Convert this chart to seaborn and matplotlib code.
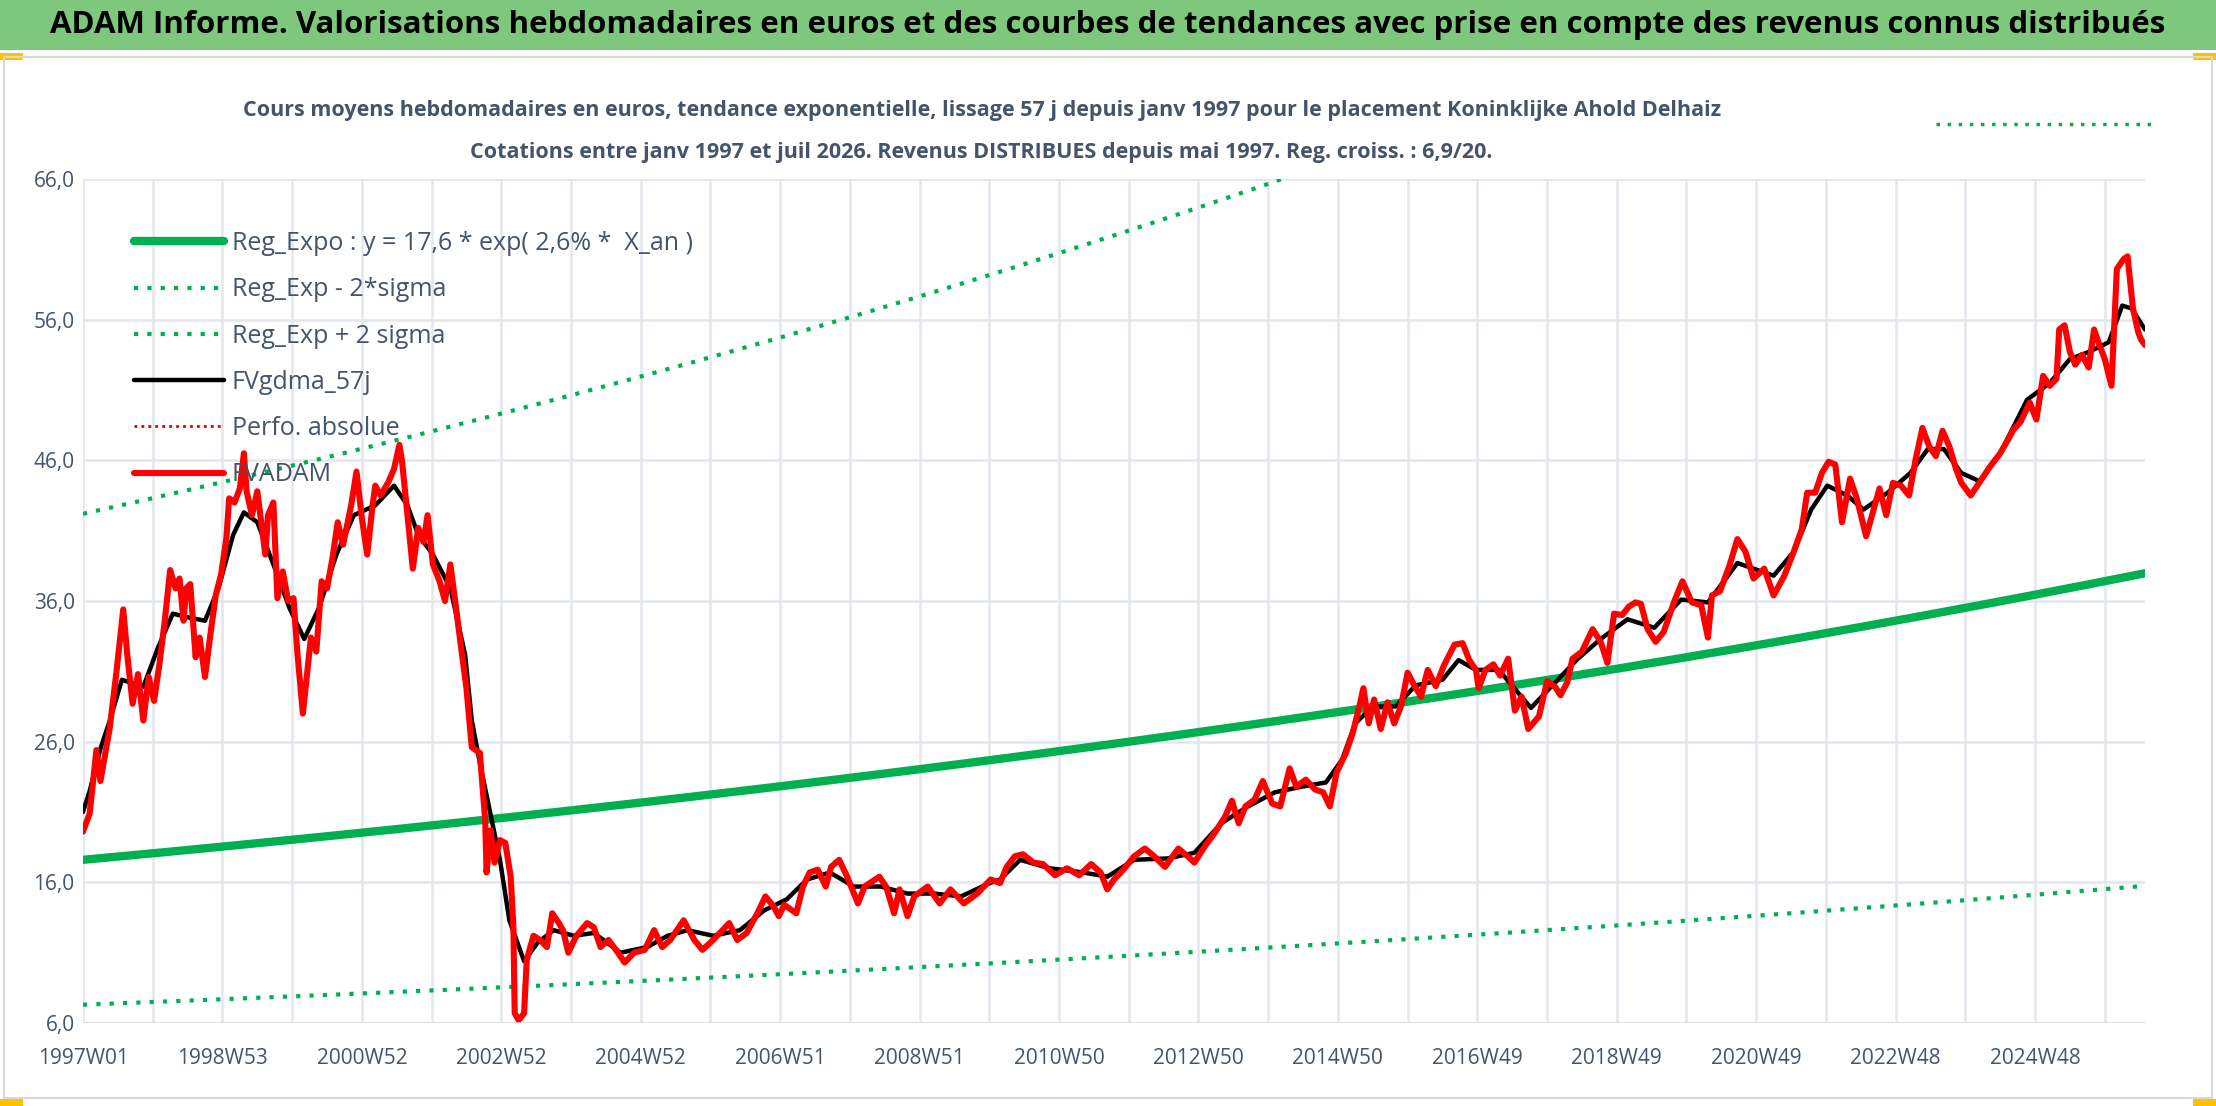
import numpy as np
import pandas as pd
import matplotlib
matplotlib.use("Agg")
import matplotlib.pyplot as plt
import seaborn as sns
from matplotlib.patches import Rectangle
from matplotlib.lines import Line2D

# ---------------- data ----------------
tick_labels = ["1997W01", "1998W53", "2000W52", "2002W52", "2004W52", "2006W51", "2008W51",
               "2010W50", "2012W50", "2014W50", "2016W49", "2018W49", "2020W49", "2022W48", "2024W48"]
n_weeks = 1538
reg_a = 17.6
reg_low = 7.3
reg_high = 42.2
reg_rate = 0.026

red_w = [0, 5, 10, 13, 20, 25, 30, 33, 37, 41, 45, 49, 53, 57, 61, 65, 69, 72, 75, 77, 80, 84, 87, 91, 95, 99, 103,
         107, 109, 113, 117, 120, 122, 126, 130, 136, 138, 142, 145, 149, 153, 157, 160, 164, 166, 170, 174, 178,
         182, 186, 190, 194, 200, 204, 208, 212, 216, 218, 222, 228, 232, 236, 238, 242, 246, 250, 254, 257, 261,
         266, 270, 274, 278, 282, 286, 290, 296, 300, 301, 304, 307, 311, 315, 319, 321, 322, 325, 329, 331, 336,
         341, 346, 350, 355, 358, 362, 368, 376, 381, 386, 392, 399, 404, 411, 419, 426, 432, 438, 448, 456, 462,
         470, 482, 488, 495, 503, 509, 515, 519, 523, 532, 537, 542, 548, 554, 558, 564, 570, 578, 583, 594, 599,
         605, 609, 615, 620, 630, 639, 647, 657, 667, 677, 684, 689, 695, 701, 709, 716, 725, 734, 743, 752, 759,
         764, 769, 776, 784, 792, 799, 807, 817, 824, 829, 837, 844, 852, 857, 862, 867, 874, 880, 887, 893, 900,
         905, 912, 919, 925, 930, 935, 942, 947, 952, 955, 959, 963, 968, 973, 978, 983, 988, 993, 998, 1003, 1009,
         1015, 1023, 1029, 1034, 1039, 1041, 1046, 1052, 1057, 1063, 1068, 1073, 1078, 1086, 1092, 1098, 1102,
         1107, 1111, 1118, 1126, 1132, 1137, 1142, 1148, 1153, 1158, 1162, 1167, 1173, 1179, 1187, 1193, 1200,
         1207, 1212, 1215, 1221, 1228, 1234, 1240, 1246, 1254, 1261, 1269, 1276, 1282, 1286, 1292, 1297, 1302,
         1307, 1312, 1318, 1323, 1330, 1335, 1340, 1345, 1350, 1356, 1362, 1367, 1372, 1377, 1382, 1387, 1392,
         1397, 1401, 1408, 1415, 1422, 1430, 1436, 1440, 1445, 1452, 1457, 1462, 1467, 1472, 1474, 1478, 1482,
         1486, 1491, 1496, 1500, 1504, 1508, 1513, 1517, 1522, 1525, 1529, 1533, 1535, 1538]
red_v = [19.6, 20.9, 25.4, 23.2, 27.0, 31.0, 35.4, 32.2, 28.7, 30.8, 27.5, 30.6, 28.9, 31.5, 34.6, 38.2, 36.9, 37.6,
         34.6, 36.9, 37.2, 32.0, 33.4, 30.6, 33.6, 36.4, 37.9, 40.5, 43.3, 43.0, 44.0, 46.5, 43.8, 42.1, 43.8, 39.3,
         42.1, 43.0, 36.2, 38.1, 36.0, 36.2, 32.2, 28.0, 29.8, 33.4, 32.4, 37.4, 36.9, 39.0, 41.6, 40.0, 42.8, 45.2,
         41.9, 39.3, 42.8, 44.2, 43.5, 44.5, 45.4, 47.1, 45.9, 42.1, 38.3, 41.2, 40.2, 42.1, 38.6, 37.4, 36.0, 38.6,
         35.7, 32.7, 29.8, 25.6, 25.2, 20.4, 16.7, 19.7, 17.4, 19.0, 18.8, 16.4, 12.9, 6.7, 6.2, 6.7, 10.5, 12.2,
         11.9, 11.4, 13.8, 13.1, 12.6, 11.0, 12.2, 13.1, 12.8, 11.4, 11.9, 11.0, 10.3, 11.0, 11.2, 12.6, 11.4, 11.9,
         13.3, 11.9, 11.2, 11.9, 13.1, 11.9, 12.4, 13.8, 15.0, 14.3, 13.6, 14.4, 13.8, 15.7, 16.7, 16.9, 15.7, 17.1,
         17.6, 16.4, 14.5, 15.7, 16.4, 15.7, 13.8, 15.5, 13.6, 15.0, 15.7, 14.5, 15.5, 14.5, 15.2, 16.2, 15.95, 17.1,
         17.85, 18.0, 17.4, 17.3, 16.5, 17.0, 16.5, 17.3, 16.7, 15.5, 16.2, 16.9, 17.85, 18.4, 17.85, 17.1, 18.4,
         17.85, 17.4, 18.6, 19.5, 20.7, 21.8, 20.2, 21.4, 21.9, 23.2, 21.6, 21.4, 24.1, 22.8, 23.3, 22.6, 22.4, 21.4,
         23.8, 25.2, 26.6, 28.5, 29.8, 27.3, 29.0, 26.9, 28.8, 27.3, 28.5, 30.9, 30.0, 29.2, 31.1, 29.95, 31.4, 32.9,
         33.0, 31.8, 31.1, 29.8, 31.1, 31.5, 30.7, 31.9, 28.2, 29.2, 26.9, 27.8, 30.3, 29.9, 29.3, 30.2, 31.9, 32.4,
         34.0, 33.1, 31.6, 35.1, 35.0, 35.6, 35.9, 35.8, 34.0, 33.1, 33.8, 36.0, 37.4, 35.9, 35.7, 33.4, 36.4, 36.7,
         38.5, 40.4, 39.5, 37.6, 38.3, 36.4, 37.8, 39.5, 41.1, 43.7, 43.7, 45.1, 45.9, 45.7, 41.6, 44.7, 43.3, 40.6,
         42.3, 44.0, 42.1, 44.4, 44.2, 43.5, 46.1, 48.3, 47.0, 46.3, 48.1, 47.0, 45.4, 44.4, 43.5, 44.5, 45.5, 46.5,
         47.5, 48.2, 48.7, 50.1, 48.9, 52.0, 51.3, 51.8, 55.3, 55.6, 53.7, 52.8, 53.5, 52.6, 55.3, 54.2, 53.2, 51.3,
         59.6, 60.3, 60.5, 56.8, 55.1, 54.6, 54.2]

blk_w = [0, 5, 13, 20, 29, 45, 56, 67, 80, 91, 101, 112, 120, 130, 144, 154, 165, 176, 189, 202, 218, 232, 242,
         250, 261, 274, 285, 290, 296, 311, 318, 329, 339, 351, 366, 381, 401, 421, 436, 451, 470, 490, 508, 525,
         540, 557, 575, 595, 615, 635, 655, 675, 684, 699, 721, 746, 764, 784, 809, 829, 849, 869, 889, 909, 927,
         939, 949, 962, 979, 994, 1014, 1026, 1039, 1056, 1080, 1095, 1115, 1132, 1152, 1172, 1192, 1212, 1234,
         1261, 1276, 1289, 1301, 1316, 1328, 1346, 1363, 1376, 1388, 1401, 1415, 1430, 1450, 1467, 1482, 1496,
         1511, 1521, 1528, 1538]
blk_v = [21.0, 22.5, 25.5, 27.5, 30.4, 29.9, 32.7, 35.1, 34.8, 34.6, 36.9, 40.7, 42.3, 41.6, 38.1, 35.5, 33.3,
         35.5, 39.3, 42.1, 42.8, 44.2, 42.8, 40.7, 39.3, 36.9, 32.2, 27.5, 24.5, 17.6, 13.3, 10.4, 11.7, 12.6, 12.2,
         12.4, 11.0, 11.4, 12.2, 12.6, 12.2, 12.6, 14.0, 14.8, 16.2, 16.7, 15.7, 15.7, 15.2, 15.2, 15.0, 15.9, 16.2,
         17.6, 17.0, 16.7, 16.4, 17.6, 17.7, 18.1, 20.2, 21.4, 22.4, 22.8, 23.1, 24.7, 27.3, 28.5, 28.5, 30.0, 30.4,
         31.8, 31.1, 31.1, 28.4, 29.9, 31.9, 33.3, 34.7, 34.1, 36.1, 35.9, 38.7, 37.8, 39.5, 42.5, 44.2, 43.5, 42.5,
         43.7, 45.1, 46.8, 46.8, 45.1, 44.5, 46.5, 50.3, 51.5, 53.2, 53.7, 54.4, 57.0, 56.8, 55.3]

# ---------------- fonts / style ----------------
sns.set_theme(style="white")
plt.rcParams['font.family'] = ["Open Sans", "DejaVu Sans"]
txt_col = "#44546A"

fig = plt.figure(figsize=(22.16, 11.06), dpi=100)
fig.patch.set_facecolor("white")

# banner
fig.add_artist(Rectangle((0, 1 - 50 / 1106), 1, 50 / 1106, transform=fig.transFigure,
                         facecolor="#7DC87D", edgecolor="none"))
fig.text(0.5, 1 - 25 / 1106, "ADAM Informe. Valorisations hebdomadaires en euros et des courbes de tendances "
         "avec prise en compte des revenus connus distribués", ha="center", va="center",
         fontsize=22.5, fontweight="bold", color="black")
for (x0, y0) in [(0, 1 - 60 / 1106), (1 - 23 / 2216, 1 - 60 / 1106), (0, 0), (1 - 23 / 2216, 0)]:
    fig.add_artist(Rectangle((x0, y0), 23 / 2216, 7 / 1106, transform=fig.transFigure,
                             facecolor="#FFC000", edgecolor="none"))
fig.add_artist(Rectangle((0.002, 0.007), 0.996, 1 - 57 / 1106 - 0.007, transform=fig.transFigure,
                         facecolor="none", edgecolor="#D9D9D9", lw=1.5))

# subtitle
fig.text(0.443, 1 - 110 / 1106, "Cours moyens hebdomadaires en euros, tendance exponentielle, lissage 57 j depuis "
         "janv 1997 pour le placement Koninklijke Ahold Delhaiz", ha="center", va="center",
         fontsize=15.5, fontweight="bold", color=txt_col)
fig.text(0.443, 1 - 153 / 1106, "Cotations entre janv 1997 et juil 2026. Revenus DISTRIBUES depuis mai 1997. "
         "Reg. croiss. : 6,9/20.", ha="center", va="center",
         fontsize=15.5, fontweight="bold", color=txt_col)
fig.add_artist(Line2D([1936 / 2216, 2155 / 2216], [1 - 124 / 1106] * 2, transform=fig.transFigure,
                      color="#00B050", lw=2.5, ls=(0, (1, 2.2))))

ax = fig.add_axes([83 / 2216, 1 - 1023 / 1106, (2145 - 83) / 2216, (1023 - 179) / 1106])

weeks = np.arange(0, n_weeks + 1)
t = weeks / 52.0
trend = pd.DataFrame({"w": weeks, "reg": reg_a * np.exp(reg_rate * t),
                      "low": reg_low * np.exp(reg_rate * t), "high": reg_high * np.exp(reg_rate * t)})

sns.lineplot(data=trend, x="w", y="reg", ax=ax, color="#00B050", lw=6, label="Reg_Expo : y = 17,6 * exp( 2,6% *  X_an )")
sns.lineplot(data=trend, x="w", y="low", ax=ax, color="#00B050", lw=3, ls=(0, (1, 2.2)), label="Reg_Exp - 2*sigma")
sns.lineplot(data=trend, x="w", y="high", ax=ax, color="#00B050", lw=3, ls=(0, (1, 2.2)), label="Reg_Exp + 2 sigma")
sns.lineplot(x=blk_w, y=blk_v, ax=ax, color="black", lw=3.2, estimator=None, label="FVgdma_57j")
ax.plot([], [], color="#E00000", lw=2, ls=(0, (1, 1.5)), label="Perfo. absolue")
sns.lineplot(x=red_w, y=red_v, ax=ax, color="#FF0000", lw=4.4, estimator=None, label="FVADAM")

ax.set_xlim(0, n_weeks)
ax.set_ylim(6, 66)
ax.set_yticks(np.arange(6, 67, 10))
ax.set_yticklabels([f"{v:.1f}".replace(".", ",") for v in np.arange(6, 67, 10)], fontsize=15, color=txt_col)
ax.set_xticks(np.arange(0, 104 * len(tick_labels), 104))
ax.set_xticklabels(tick_labels, fontsize=15, color=txt_col)
ax.set_xticks(np.arange(0, n_weeks, 52), minor=True)
ax.grid(True, which="both", axis="x", color="#E3E6EC", lw=1.8)
ax.grid(True, which="major", axis="y", color="#E3E6EC", lw=1.8)
ax.tick_params(axis="x", which="both", length=8, color="#D9D9D9", pad=10)
ax.tick_params(axis="y", length=0, pad=6)
ax.set_xlabel("")
ax.set_ylabel("")
for s in ax.spines.values():
    s.set_visible(False)
ax.axhline(6, color="#D9D9D9", lw=1.8)

leg = ax.legend(loc="upper left", bbox_to_anchor=(0.02, 0.95), frameon=False, fontsize=18,
                handlelength=3.6, labelspacing=0.85, handletextpad=0.3, borderaxespad=0)
for txt in leg.get_texts():
    txt.set_color(txt_col)

fig.savefig("out.png", dpi=100)
